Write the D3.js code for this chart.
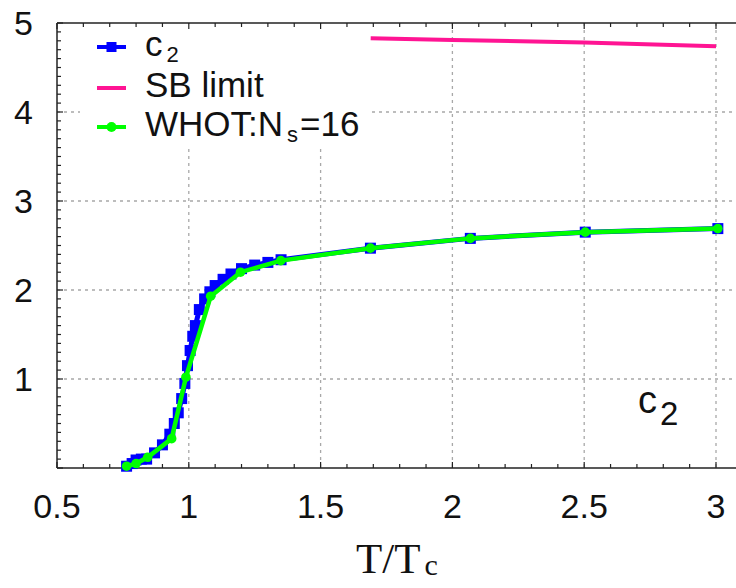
<!DOCTYPE html>
<html><head><meta charset="utf-8">
<script src="https://cdn.jsdelivr.net/npm/d3@7"></script>
<style>html,body{margin:0;padding:0;background:#fff;}svg{display:block;}</style>
</head><body>
<svg id="c" width="736" height="588"></svg>
<script>
// ---- data ----
const c2T   = [0.764,0.785,0.80,0.82,0.84,0.87,0.90,0.928,0.945,0.96,0.973,0.985,0.995,1.005,1.015,1.025,1.04,1.06,1.08,1.10,1.13,1.16,1.20,1.25,1.30,1.35,1.689,2.068,2.504,3.007];
const c2Val = [0.02,0.05,0.09,0.10,0.10,0.17,0.26,0.38,0.50,0.62,0.78,0.95,1.15,1.32,1.48,1.60,1.78,1.90,1.98,2.05,2.12,2.18,2.24,2.28,2.31,2.34,2.47,2.58,2.65,2.69];
const whotT   = [0.764,0.80,0.844,0.935,0.989,1.083,1.196,1.349,1.689,2.068,2.504,3.007];
const whotVal = [0.02,0.05,0.12,0.33,1.02,1.93,2.20,2.33,2.47,2.58,2.65,2.69];
const sbT   = [1.69,2.0,2.5,3.0];
const sbVal = [4.83,4.81,4.78,4.74];
const xTicks = [0.5,1,1.5,2,2.5,3];
const yTicks = [1,2,3,4,5];

const svg = d3.select('#c');
const L=57, T=23, B=468, R=736;
const x = d3.scaleLinear().domain([0.5,3]).range([L,716]);
const y = d3.scaleLinear().domain([0,5]).range([B,T]);

// grid
const grid = svg.append('g').attr('stroke','#a8a8a8').attr('stroke-width',1.3).attr('stroke-dasharray','3,4');
xTicks.filter(v=>v>0.5).forEach(v=>grid.append('line').attr('x1',x(v)).attr('x2',x(v)).attr('y1',T).attr('y2',B));
yTicks.filter(v=>v<5).forEach(v=>grid.append('line').attr('x1',L).attr('x2',R).attr('y1',y(v)).attr('y2',y(v)));

// legend background (masks grid)
svg.append('rect').attr('x',80).attr('y',T+1).attr('width',290).attr('height',122).attr('fill','#fff');

// frame
const fr = svg.append('g').attr('stroke','#222').attr('stroke-width',1.5).attr('fill','none');
fr.append('line').attr('x1',L).attr('x2',R).attr('y1',T).attr('y2',T);
fr.append('line').attr('x1',L).attr('x2',R).attr('y1',B).attr('y2',B);
fr.append('line').attr('x1',L).attr('x2',L).attr('y1',T).attr('y2',B);
// minor ticks
const tk = svg.append('g').attr('stroke','#222').attr('stroke-width',1.2);
d3.range(5,32).map(i=>i/10).forEach(v=>{
  const px=x(v); if(px>R) return;
  const len = Math.abs(v*2-Math.round(v*2))<1e-6 ? 6 : 4;
  tk.append('line').attr('x1',px).attr('x2',px).attr('y1',B).attr('y2',B-len);
  tk.append('line').attr('x1',px).attr('x2',px).attr('y1',T).attr('y2',T+len);
});
d3.range(0,51).map(i=>i/10).forEach(v=>{
  const len = Math.abs(v-Math.round(v))<1e-6 ? 6 : 4;
  tk.append('line').attr('x1',L).attr('x2',L+len).attr('y1',y(v)).attr('y2',y(v));
});

// tick labels
const font = "'Liberation Sans', Arial, sans-serif";
svg.append('g').selectAll('text').data(xTicks).join('text')
  .attr('x',d=>x(d)).attr('y',518).attr('text-anchor','middle')
  .attr('font-family',font).attr('font-size',34).attr('fill','#111').text(d=>d);
svg.append('g').selectAll('text').data(yTicks).join('text')
  .attr('x',33).attr('y',d=>y(d)+12).attr('text-anchor','end')
  .attr('font-family',font).attr('font-size',34).attr('fill','#111').text(d=>d);

// x axis title
const xt = svg.append('text').attr('x',397).attr('y',573).attr('text-anchor','middle')
  .attr('font-family',"'Liberation Serif','Times New Roman',serif").attr('font-size',43).attr('fill','#111');
xt.append('tspan').text('T/T');
xt.append('tspan').attr('font-size',30).attr('dx',4).attr('dy',2).text('c');

// series
const line = d3.line().x(d=>x(d[0])).y(d=>y(d[1]));
const c2Data = c2T.map((t,i)=>[t,c2Val[i]]);
const whotData = whotT.map((t,i)=>[t,whotVal[i]]);
const sbData = sbT.map((t,i)=>[t,sbVal[i]]);

svg.append('path').datum(sbData).attr('d',line).attr('fill','none').attr('stroke','#ff1493').attr('stroke-width',4);

svg.append('path').datum(c2Data).attr('d',line).attr('fill','none').attr('stroke','#0000ff').attr('stroke-width',5);
svg.append('g').selectAll('rect').data(c2Data).join('rect')
  .attr('x',d=>x(d[0])-5.5).attr('y',d=>y(d[1])-5.5).attr('width',11).attr('height',11).attr('fill','#0000ff');

svg.append('path').datum(whotData).attr('d',line).attr('fill','none').attr('stroke','#00ff00').attr('stroke-width',4.5);
svg.append('g').selectAll('circle').data(whotData).join('circle')
  .attr('cx',d=>x(d[0])).attr('cy',d=>y(d[1])).attr('r',4.8).attr('fill','#00ff00');

// legend
const lg = svg.append('g');
const rows = [
  {c:'#0000ff', m:'sq', y:47, main:'c', sub:'2', tail:''},
  {c:'#ff1493', m:'none', y:88, main:'SB limit', sub:'', tail:''},
  {c:'#00ff00', m:'ci', y:127, main:'WHOT:N', sub:'s', tail:'=16'}
];
rows.forEach(r=>{
  lg.append('line').attr('x1',97).attr('x2',126).attr('y1',r.y).attr('y2',r.y).attr('stroke',r.c).attr('stroke-width',4);
  if(r.m==='sq') lg.append('rect').attr('x',106.5).attr('y',r.y-5).attr('width',10).attr('height',10).attr('fill',r.c);
  if(r.m==='ci') lg.append('circle').attr('cx',111.5).attr('cy',r.y).attr('r',5).attr('fill',r.c);
  const t = lg.append('text').attr('x',145).attr('y',r.y+9).attr('font-family',font).attr('font-size',35).attr('fill','#111');
  t.append('tspan').text(r.main);
  if(r.sub){ t.append('tspan').attr('font-size',22).attr('dx',4).attr('dy',6).text(r.sub); }
  if(r.tail){ t.append('tspan').attr('dx',2).attr('dy',-6).text(r.tail); }
});

// annotation
const an = svg.append('text').attr('x',638).attr('y',413).attr('font-family',font).attr('font-size',38).attr('fill','#111');
an.append('tspan').text('c');
an.append('tspan').attr('font-size',33).attr('dx',3).attr('dy',12).text('2');
</script>
</body></html>
